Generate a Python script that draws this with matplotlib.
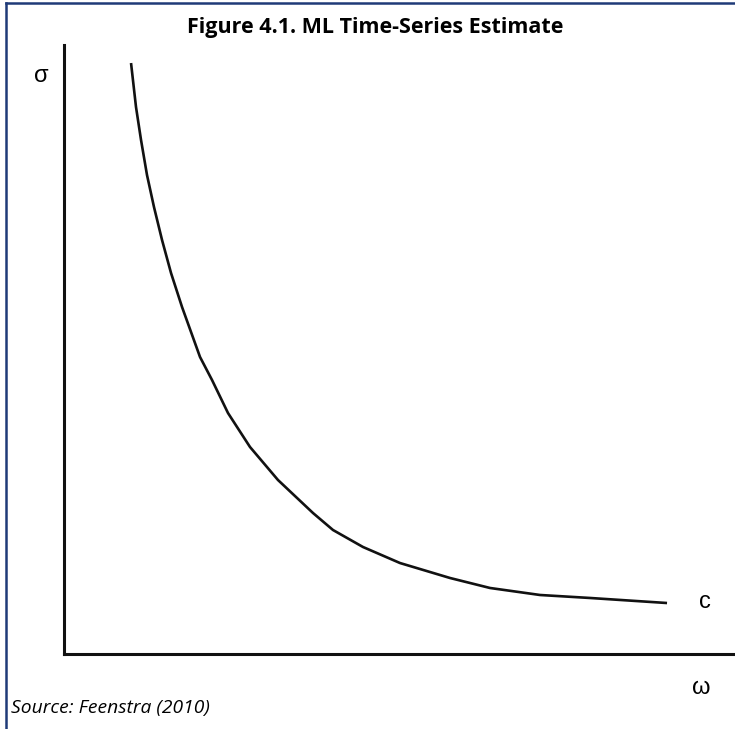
import matplotlib
matplotlib.use("Agg")
from matplotlib import pyplot as plt
from matplotlib.lines import Line2D

# curve (omega, sigma in axis units 0..100)
omega = [9.99, 10.73, 11.48, 12.37, 13.41, 14.61, 15.95, 17.59, 20.27, 22.06,
         24.44, 27.72, 31.89, 37.11, 40.09, 44.56, 50.07, 57.53, 63.49, 70.94,
         78.39, 89.87]
sigma = [97.04, 89.82, 84.40, 78.65, 73.40, 67.98, 62.56, 56.98, 48.77, 44.99,
         39.57, 33.99, 28.57, 23.15, 20.36, 17.57, 14.94, 12.48, 10.84, 9.69,
         9.20, 8.37]

title = "Figure 4.1. ML Time-Series Estimate"
source = "Source: Feenstra (2010)"

fig = plt.figure(figsize=(7.35, 7.29), dpi=100)
ax = fig.add_axes([64/735, 75/729, 671/735, 609/729])
ax.plot(omega, sigma, color="#111111", lw=1.9, solid_joinstyle="round",
        solid_capstyle="butt")
ax.set_xlim(0, 100)
ax.set_ylim(0, 100)
ax.set_xticks([])
ax.set_yticks([])
for s in ["top", "right"]:
    ax.spines[s].set_visible(False)
for s in ["left", "bottom"]:
    ax.spines[s].set_linewidth(2.2)
    ax.spines[s].set_color("#111111")

# axis labels
fig.text(41/735, 1 - 76/729, "σ", fontsize=17, family="Liberation Sans",
         ha="center", va="center")
fig.text(705/735, 1 - 602/729, "c", fontsize=17, family="Liberation Sans",
         ha="center", va="center")
fig.text(701/735, 1 - 688/729, "ω", fontsize=17, family="Liberation Sans",
         ha="center", va="center")

fig.text(375.5/735, 1 - 27/729, title, fontsize=15.5, fontweight="bold",
         family="Open Sans", ha="center", va="center")
fig.text(11/735, 1 - 708/729, source, fontsize=13.9, style="italic",
         family="Open Sans", ha="left", va="center")

# frame at top and left
navy = "#1F3A78"
fig.add_artist(Line2D([6/735, 1], [1 - 3/729, 1 - 3/729], color=navy, lw=1.8,
                      transform=fig.transFigure))
fig.add_artist(Line2D([6/735, 6/735], [0, 1 - 3/729], color=navy, lw=1.8,
                      transform=fig.transFigure))

fig.savefig("out.png", dpi=100)
